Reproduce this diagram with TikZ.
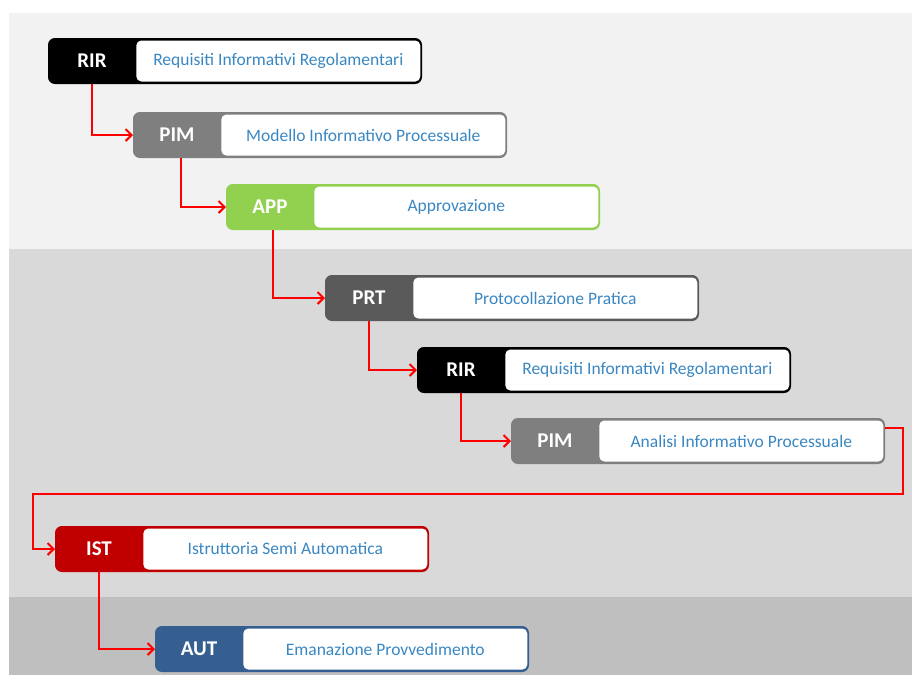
\documentclass[tikz,border=0pt]{standalone}
\usepackage{fontspec}
\setmainfont{Carlito}
\usetikzlibrary{arrows.meta}
\definecolor{bandA}{HTML}{F2F2F2}
\definecolor{bandB}{HTML}{D9D9D9}
\definecolor{bandC}{HTML}{BFBFBF}
\definecolor{cBlack}{HTML}{000000}
\definecolor{cGray}{HTML}{7F7F7F}
\definecolor{cDark}{HTML}{5A5A5A}
\definecolor{cGreen}{HTML}{92D050}
\definecolor{cRed}{HTML}{C00000}
\definecolor{cBlue}{HTML}{365F91}
\definecolor{txtBlue}{HTML}{3A87C2}
\definecolor{flowRed}{HTML}{FF0000}
\tikzset{
  stepframe/.style={rectangle, rounded corners=6pt, line width=2pt,
    minimum height=44pt, inner sep=0pt},
  steplabel/.style={rectangle, rounded corners=5pt, fill=white,
    minimum height=41pt, inner sep=0pt, text=txtBlue,
    font=\fontsize{17.5}{17.5}\selectfont},
  steptag/.style={text=white, inner sep=0pt,
    font=\bfseries\fontsize{21}{21}\selectfont},
  flow/.style={draw=flowRed, line width=2pt,
    -{Straight Barb[length=6pt,width=12pt,line width=2pt]}}
}
% #1 name, #2 x, #3 y, #4 colour, #5 tag, #6 description
\newcommand\procstep[6]{%
  \node[stepframe, fill=#4, draw=#4, minimum width=372pt, anchor=north west]
    (#1) at (#2,#3) {};
  \node[steplabel, minimum width=284pt, anchor=east]
    (#1l) at ([xshift=-1.5pt]#1.east) {#6};
  \node[steptag] (#1t) at ([xshift=44pt]#1.west) {#5};
}
\begin{document}
\begin{tikzpicture}[x=1pt, y=-1pt]
  \useasboundingbox (0,0) rectangle (912,675);
  % background bands
  \fill[white] (0,0) rectangle (912,675);
  \fill[bandA] (9,13) rectangle (912,249);
  \fill[bandB] (9,249) rectangle (912,597);
  \fill[bandC] (9,597) rectangle (912,675);

  % process steps
  \procstep{s1}{48}{38}{cBlack}{RIR}{Requisiti Informativi Regolamentari}
  \procstep{s2}{133}{112}{cGray}{PIM}{Modello Informativo Processuale}
  \procstep{s3}{226}{184}{cGreen}{APP}{Approvazione}
  \procstep{s4}{325}{275}{cDark}{PRT}{Protocollazione Pratica}
  \procstep{s5}{417}{347}{cBlack}{RIR}{Requisiti Informativi Regolamentari}
  \procstep{s6}{511}{418}{cGray}{PIM}{Analisi Informativo Processuale}
  \procstep{s7}{55}{526}{cRed}{IST}{Istruttoria Semi Automatica}
  \procstep{s8}{155}{626}{cBlue}{AUT}{Emanazione Provvedimento}

  % turning points of the long return connector
  \coordinate (turnR) at (903,494);
  \coordinate (turnL) at (33,494);

  % connectors
  \draw[flow] (s1t.center |- s1.south) |- (s2.west);
  \draw[flow] ([xshift=4pt]s2t.center |- s2.south) |- (s3.west);
  \draw[flow] ([xshift=3pt]s3t.center |- s3.south) |- (s4.west);
  \draw[flow] (s4t.center |- s4.south) |- (s5.west);
  \draw[flow] (s5t.center |- s5.south) |- (s6.west);
  \draw[flow] ([yshift=-10pt]s6.north east) -| (turnR) -- (turnL) |- (s7.west);
  \draw[flow] (s7t.center |- s7.south) |- (s8.west);
\end{tikzpicture}
\end{document}
